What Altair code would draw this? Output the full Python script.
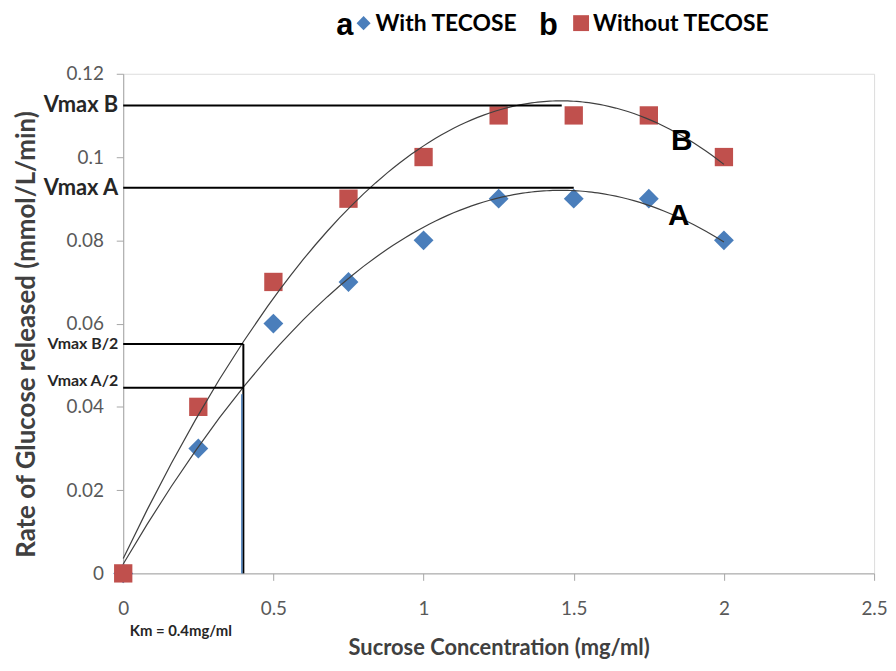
import altair as alt
import pandas as pd

conc = [0, 0.25, 0.5, 0.75, 1.0, 1.25, 1.5, 1.75, 2.0]
with_tecose = [0, 0.03, 0.06, 0.07, 0.08, 0.09, 0.09, 0.09, 0.08]
without_tecose = [0, 0.04, 0.07, 0.09, 0.10, 0.11, 0.11, 0.11, 0.10]

vmax_labels = ["Vmax B", "Vmax A"]
vmax_values = [0.1124, 0.0926]
vmax_ends = [1.46, 1.50]
half_labels = ["Vmax B/2", "Vmax A/2"]
half_values = [0.0551, 0.0446]
km = 0.4

FONT = "Lato"
AX = "#595959"
TXT = "#262626"

dfA = pd.DataFrame({"x": conc, "y": with_tecose, "s": "A"})
dfB = pd.DataFrame({"x": conc, "y": without_tecose, "s": "B"})
df = pd.concat([dfA, dfB], ignore_index=True)

xs = alt.Scale(domain=[0, 2.5], nice=False)
ys = alt.Scale(domain=[0, 0.12], nice=False)

xaxis = alt.Axis(values=[0, 0.5, 1, 1.5, 2, 2.5], grid=False, domainColor="#a6a6a6",
                 tickColor="#a6a6a6", tickSize=7, labelFontSize=19, labelColor=AX,
                 labelFont=FONT, labelPadding=19, format="~g", title="Sucrose Concentration (mg/ml)",
                 titleFont=FONT, titleFontSize=22, titleFontWeight="bold", titleColor="#404040",
                 titlePadding=20, labelFlush=False)
yaxis = alt.Axis(values=[0, 0.02, 0.04, 0.06, 0.08, 0.1, 0.12], grid=False, domainColor="#a6a6a6",
                 tickColor="#a6a6a6", tickSize=7, labelFontSize=19, labelColor=AX,
                 labelFont=FONT, labelPadding=13, format="~g", title="Rate of Glucose released (mmol/L/min)",
                 titleFont=FONT, titleFontSize=26, titleFontWeight="bold", titleColor="#404040",
                 titlePadding=27, titleY=262, labelFlush=False)

ptsA = alt.Chart(dfA).mark_point(shape="diamond", filled=True, size=400, color="#4a7ebb", opacity=1).encode(
    x=alt.X("x:Q", scale=xs, axis=xaxis), y=alt.Y("y:Q", scale=ys, axis=yaxis))
ptsB = alt.Chart(dfB).mark_point(shape="square", filled=True, size=340, color="#c0504d", opacity=1).encode(
    x=alt.X("x:Q", scale=xs), y=alt.Y("y:Q", scale=ys))

fits = alt.Chart(df).transform_regression("x", "y", method="poly", order=2, extent=[0, 2], groupby=["s"]).mark_line(
    color="#404040", strokeWidth=1.2).encode(
    x=alt.X("x:Q", scale=xs), y=alt.Y("y:Q", scale=ys), detail="s:N")

vm = pd.DataFrame({"lab": vmax_labels, "v": vmax_values, "end": vmax_ends, "x0": [0, 0]})
vmax_rules = alt.Chart(vm).mark_rule(color="black", strokeWidth=2).encode(
    x=alt.X("x0:Q", scale=xs), x2="end:Q", y=alt.Y("v:Q", scale=ys))
vmax_text = alt.Chart(vm).mark_text(align="right", baseline="middle", font=FONT, fontSize=22,
                                    fontWeight="bold", color=TXT, dx=-5).encode(
    x=alt.value(0), y=alt.Y("v:Q", scale=ys), text="lab:N")

hv = pd.DataFrame({"lab": half_labels, "v": half_values, "end": [km, km], "x0": [0, 0]})
half_rules = alt.Chart(hv).mark_rule(color="black", strokeWidth=2).encode(
    x=alt.X("x0:Q", scale=xs), x2="end:Q", y=alt.Y("v:Q", scale=ys))
half_text_b = alt.Chart(hv.iloc[[0]]).mark_text(align="right", baseline="middle", font=FONT, fontSize=16,
                                                fontWeight="bold", color=TXT, dx=-5).encode(
    x=alt.value(0), y=alt.Y("v:Q", scale=ys), text="lab:N")
half_text_a = alt.Chart(hv.iloc[[1]]).mark_text(align="right", baseline="bottom", font=FONT, fontSize=16,
                                                fontWeight="bold", color=TXT, dx=-5, dy=1).encode(
    x=alt.value(0), y=alt.Y("v:Q", scale=ys), text="lab:N")

kmdf = pd.DataFrame({"x": [km], "y0": [0], "y1": [half_values[0]], "yb": [0.043]})
km_rule = alt.Chart(kmdf).mark_rule(color="black", strokeWidth=2).encode(
    x=alt.X("x:Q", scale=xs), y=alt.Y("y0:Q", scale=ys), y2="y1:Q")
km_blue = alt.Chart(kmdf).mark_rule(color="#4a7ebb", strokeWidth=1.5, xOffset=-1.5).encode(
    x=alt.X("x:Q", scale=xs), y=alt.Y("y0:Q", scale=ys), y2="yb:Q")
km_text = alt.Chart(kmdf).mark_text(align="center", baseline="middle", font=FONT, fontSize=15,
                                    fontWeight="bold", color=TXT).encode(
    x=alt.value(58), y=alt.value(561), text=alt.value("Km = 0.4mg/ml"))

curve_lab = pd.DataFrame({"x": [1.86, 1.85], "y": [0.1038, 0.0859], "t": ["B", "A"]})
curve_text = alt.Chart(curve_lab).mark_text(font="Liberation Sans", fontSize=30, fontWeight="bold",
                                            color="black").encode(
    x=alt.X("x:Q", scale=xs), y=alt.Y("y:Q", scale=ys), text="t:N")

# legend (layout in pixels)
one = pd.DataFrame({"k": [1]})
def ltext(t, px, py, size, font, align="center", baseline="middle"):
    return alt.Chart(one).mark_text(font=font, fontSize=size, fontWeight="bold", color="black",
                                    align=align, baseline=baseline).encode(
        x=alt.value(px), y=alt.value(py), text=alt.value(t))

leg = [
    ltext("a", 223, -39, 31, "Liberation Sans", baseline="alphabetic"),
    ltext("b", 428, -39, 31, "Liberation Sans", baseline="alphabetic"),
    ltext("With TECOSE", 254, -50, 23, FONT, align="left"),
    ltext("Without TECOSE", 473, -50, 23, FONT, align="left"),
    alt.Chart(one).mark_point(shape="diamond", filled=True, size=200, color="#4a7ebb", opacity=1).encode(
        x=alt.value(242), y=alt.value(-51)),
    alt.Chart(one).mark_point(shape="square", filled=True, size=256, color="#c0504d", opacity=1).encode(
        x=alt.value(461), y=alt.value(-51)),
]

chart = alt.layer(
    ptsA, ptsB, fits, vmax_rules, half_rules, km_rule, km_blue,
    vmax_text, half_text_b, half_text_a, km_text, curve_text, *leg
).properties(
    width=756, height=503,
    padding={"left": 116, "top": 64, "right": 14, "bottom": 88},
    autosize="none",
).configure_view(stroke=None).configure(background="white")

chart.save("out.html", embed_options={"renderer": "svg", "actions": False})
